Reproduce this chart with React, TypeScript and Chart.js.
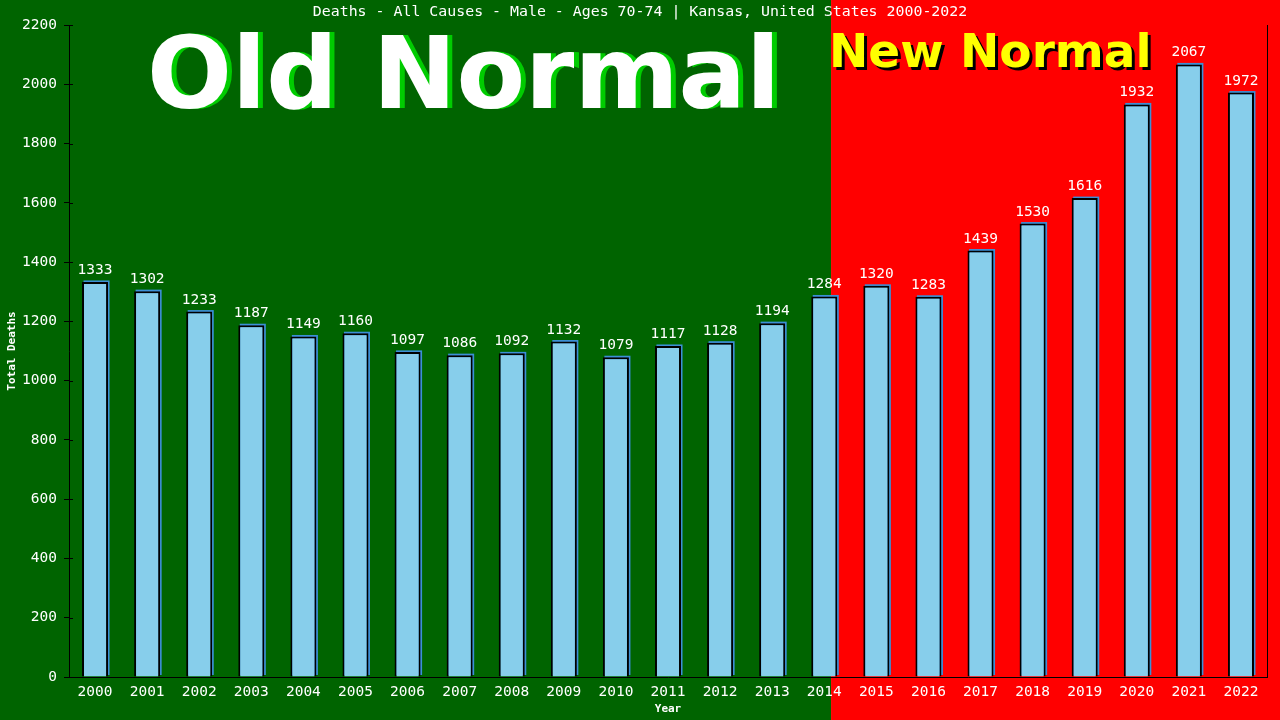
import { useEffect, useRef } from 'react'
import { Chart, registerables } from 'chart.js'

Chart.register(...registerables)

const YEARS = ['2000', '2001', '2002', '2003', '2004', '2005', '2006', '2007', '2008', '2009', '2010', '2011',
  '2012', '2013', '2014', '2015', '2016', '2017', '2018', '2019', '2020', '2021', '2022']
const DEATHS = [1333, 1302, 1233, 1187, 1149, 1160, 1097, 1086, 1092, 1132, 1079, 1117,
  1128, 1194, 1284, 1320, 1283, 1439, 1530, 1616, 1932, 2067, 1972]
const TITLE = 'Deaths - All Causes - Male - Ages 70-74 | Kansas, United States 2000-2022'
// where the green "old normal" era ends, in category index units
const SPLIT_INDEX = 14.13

const MONO = '"DejaVu Sans Mono", monospace'
const BOLD_SANS = '"DejaVu Sans", Verdana, sans-serif'

const backdrop = {
  id: 'backdrop',
  beforeDraw(chart: any) {
    const { ctx, width, height } = chart
    const split = chart.scales.x.getPixelForValue(SPLIT_INDEX)
    ctx.save()
    ctx.fillStyle = '#006400'
    ctx.fillRect(0, 0, split, height)
    ctx.fillStyle = '#ff0000'
    ctx.fillRect(split, 0, width - split, height)

    // page title, centred on the whole canvas
    ctx.font = `14.9px ${MONO}`
    ctx.fillStyle = '#ffffff'
    ctx.textAlign = 'center'
    ctx.textBaseline = 'middle'
    ctx.fillText(TITLE, width / 2, 12)

    // Old Normal
    ctx.font = `bold 100px ${BOLD_SANS}`
    ctx.textAlign = 'left'
    ctx.textBaseline = 'alphabetic'
    ctx.fillStyle = '#00cc00'
    ctx.fillText('Old Normal', 152, 108)
    ctx.fillStyle = '#ffffff'
    ctx.fillText('Old Normal', 147, 108)

    // New Normal
    ctx.font = `bold 47px ${BOLD_SANS}`
    ctx.fillStyle = '#000000'
    ctx.fillText('New Normal', split + 1, 70)
    ctx.fillStyle = '#ffff00'
    ctx.fillText('New Normal', split - 2, 67)
    ctx.restore()
  },
  beforeDatasetsDraw(chart: any) {
    // thin blue offset shadow behind every bar
    const { ctx } = chart
    ctx.save()
    ctx.fillStyle = '#3c8fd6'
    chart.getDatasetMeta(0).data.forEach((bar: any) => {
      const left = bar.x - bar.width / 2
      ctx.fillRect(left + 1.5, bar.y - 1.5, bar.width, bar.base - bar.y)
    })
    ctx.restore()
  },
  afterDatasetsDraw(chart: any) {
    const { ctx, chartArea } = chart

    // value labels
    ctx.save()
    ctx.font = `14.5px ${MONO}`
    ctx.fillStyle = '#ffffff'
    ctx.textAlign = 'center'
    ctx.textBaseline = 'alphabetic'
    chart.getDatasetMeta(0).data.forEach((bar: any, i: number) => {
      ctx.fillText(String(DEATHS[i]), bar.x, bar.y - 8)
    })

    // right frame + inner half of y tick marks
    ctx.strokeStyle = '#000000'
    ctx.lineWidth = 1
    ctx.beginPath()
    ctx.moveTo(chartArea.right + 0.5, chartArea.top)
    ctx.lineTo(chartArea.right + 0.5, chartArea.bottom)
    chart.scales.y.ticks.forEach((t: any) => {
      const y = Math.round(chart.scales.y.getPixelForValue(t.value)) + 0.5
      ctx.moveTo(chartArea.left, y)
      ctx.lineTo(chartArea.left + 4, y)
    })
    ctx.stroke()
    ctx.restore()
  },
}

export default function App() {
  const ref = useRef<HTMLCanvasElement>(null)

  useEffect(() => {
    if (!ref.current) return
    const chart = new Chart(ref.current, {
      type: 'bar',
      data: {
        labels: YEARS,
        datasets: [{
          data: DEATHS,
          backgroundColor: '#87ceeb',
          borderColor: '#000000',
          borderWidth: 2,
          borderSkipped: 'bottom',
          barPercentage: 0.5,
          categoryPercentage: 1,
        }],
      },
      options: {
        responsive: true,
        maintainAspectRatio: false,
        animation: false,
        layout: { padding: { left: 0, right: 13, top: 25, bottom: 0 } },
        plugins: {
          legend: { display: false },
          tooltip: { enabled: false },
          title: { display: false },
        },
        scales: {
          x: {
            afterFit: (s: any) => { s.height = 43 },
            grid: { display: true, drawOnChartArea: false, drawTicks: false },
            border: { color: '#000000', width: 1 },
            ticks: { color: '#ffffff', font: { family: MONO, size: 14.5 }, padding: 7, maxRotation: 0, autoSkip: false },
            title: {
              display: true,
              text: 'Year',
              color: '#ffffff',
              font: { family: MONO, size: 11, weight: 'bold', lineHeight: 1.2 },
              padding: { top: 0, bottom: 4 },
            },
          },
          y: {
            min: 0,
            max: 2200,
            afterFit: (s: any) => { s.width = 69 },
            grid: { display: true, drawOnChartArea: false, drawTicks: true, tickLength: 5, color: '#000000' },
            border: { color: '#000000', width: 1 },
            ticks: {
              stepSize: 200,
              color: '#ffffff',
              font: { family: MONO, size: 14.5 },
              padding: 7,
              callback: (v: any) => String(v),
            },
            title: {
              display: true,
              text: 'Total Deaths',
              color: '#ffffff',
              font: { family: MONO, size: 11, weight: 'bold', lineHeight: 1.2 },
              padding: { top: 6, bottom: 0 },
            },
          },
        },
      },
      plugins: [backdrop],
    })
    return () => chart.destroy()
  }, [])

  return (
    <div style={{ position: 'fixed', left: 0, top: 0, width: 1280, height: 720 }}>
      <canvas ref={ref} />
    </div>
  )
}
